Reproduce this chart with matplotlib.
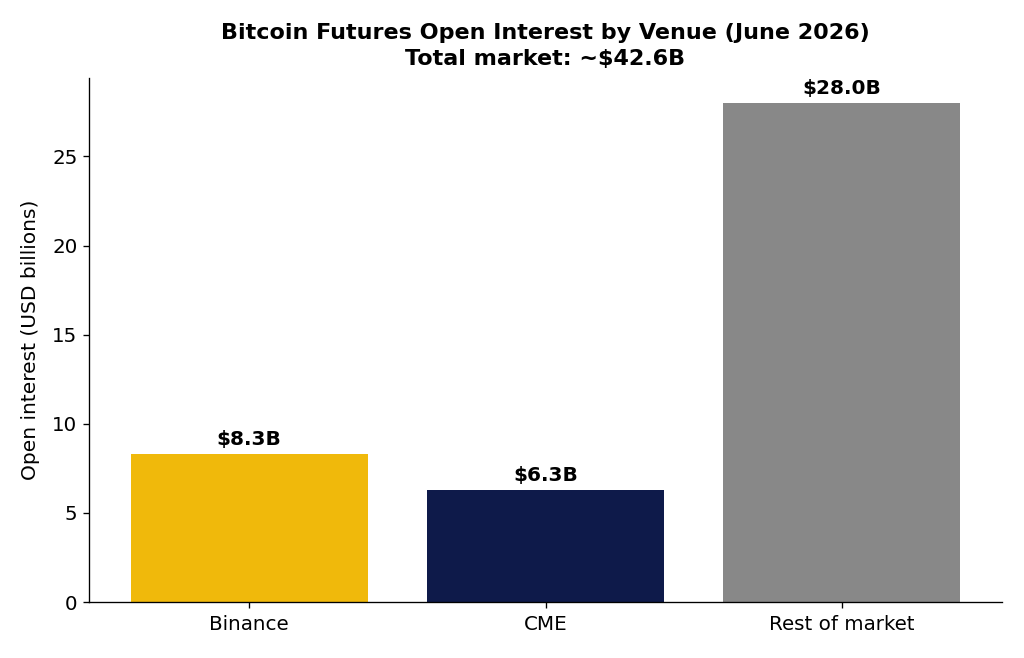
import matplotlib
matplotlib.use("Agg")
import matplotlib.pyplot as plt

venues = ["Binance", "CME", "Rest of market"]
open_interest = [8.3, 6.3, 28.0]
bar_labels = ["$8.3B", "$6.3B", "$28.0B"]
colors = ["#F0B90B", "#0E1A4A", "#888888"]

k = 1.2
plt.rcParams.update({
    "axes.linewidth": 0.8 * k,
    "xtick.major.width": 0.8 * k,
    "ytick.major.width": 0.8 * k,
    "xtick.major.size": 3.5 * k,
    "ytick.major.size": 3.5 * k,
    "xtick.major.pad": 5.0,
    "ytick.major.pad": 3.5 * k,
})

fig = plt.figure(figsize=(10.24, 6.58), dpi=100)
ax = fig.add_axes([0.087, 0.085, 0.8915, 0.7965])
bars = ax.bar(venues, open_interest, color=colors, width=0.8)
for b, lab in zip(bars, bar_labels):
    ax.annotate(lab, (b.get_x() + b.get_width() / 2, b.get_height()),
                xytext=(0, 3.5), textcoords="offset points",
                ha="center", va="bottom", fontsize=14.5, fontweight="bold")
ax.set_title("Bitcoin Futures Open Interest by Venue (June 2026)\nTotal market: ~$42.6B",
             fontsize=16, fontweight="bold", pad=9, linespacing=1.4)
ax.set_ylabel("Open interest (USD billions)", fontsize=14.5, labelpad=9)
ax.tick_params(labelsize=14.3)
ax.spines["top"].set_visible(False)
ax.spines["right"].set_visible(False)
fig.savefig("out.png", dpi=100)
